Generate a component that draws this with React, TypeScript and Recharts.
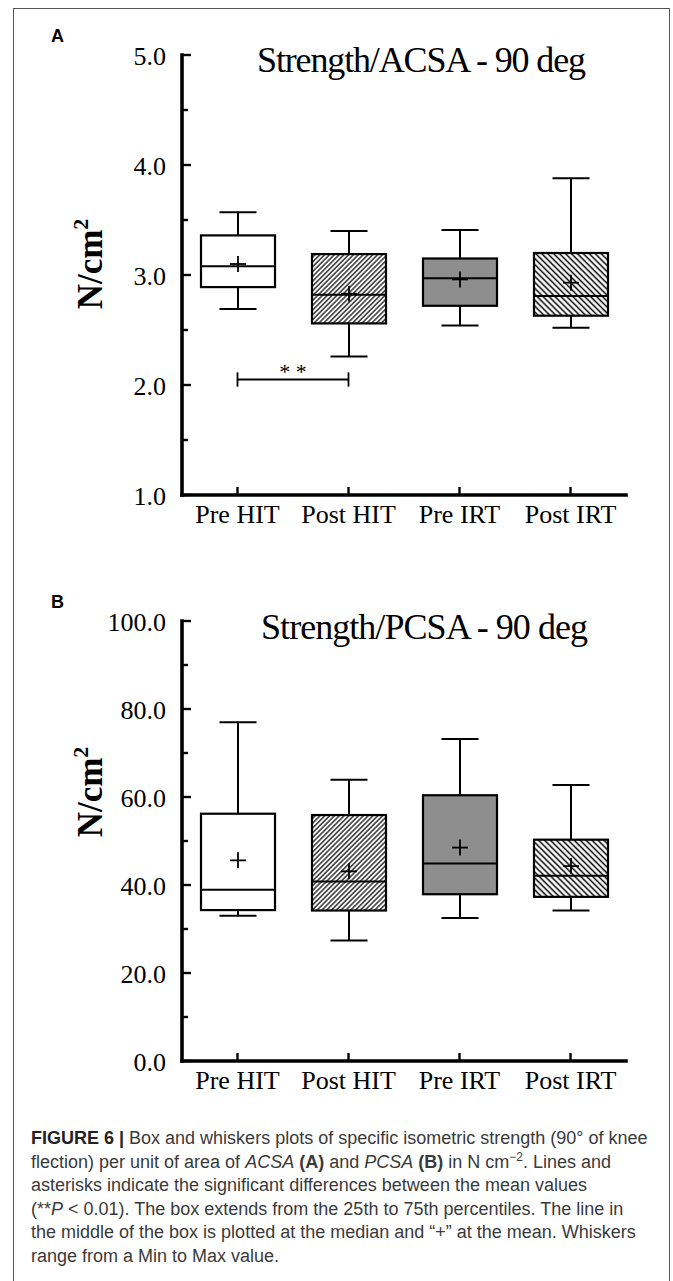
import React from 'react';
import { ComposedChart, Bar, XAxis, YAxis, ReferenceLine } from 'recharts';

const categories = ['Pre HIT', 'Post HIT', 'Pre IRT', 'Post IRT'];

// Panel A: Strength/ACSA (N/cm2)
const minA = [2.69, 2.26, 2.54, 2.52];
const q1A = [2.89, 2.56, 2.72, 2.63];
const medA = [3.08, 2.82, 2.97, 2.81];
const q3A = [3.36, 3.19, 3.15, 3.2];
const maxA = [3.57, 3.4, 3.41, 3.88];
const meanA = [3.1, 2.83, 2.96, 2.93];

// Panel B: Strength/PCSA (N/cm2)
const minB = [33.0, 27.4, 32.5, 34.2];
const q1B = [34.3, 34.2, 37.9, 37.3];
const medB = [38.9, 40.8, 44.9, 42.1];
const q3B = [56.2, 55.9, 60.4, 50.3];
const maxB = [77.0, 63.9, 73.2, 62.7];
const meanB = [45.6, 43.1, 48.5, 44.3];

const ticksA = [1.0, 1.5, 2.0, 2.5, 3.0, 3.5, 4.0, 4.5, 5.0];
const majorA = [1.0, 2.0, 3.0, 4.0, 5.0];
const ticksB = [0, 10, 20, 30, 40, 50, 60, 70, 80, 90, 100];
const majorB = [0, 20, 40, 60, 80, 100];

const fills = ['#ffffff', 'url(#hatchFwd)', '#8e8e8e', 'url(#hatchBack)'];

const SERIF = "'Liberation Serif', 'Times New Roman', serif";
const SANS = "'Liberation Sans', Arial, sans-serif";

function buildRows(mn: number[], q1: number[], md: number[], q3: number[], mx: number[], mean: number[]) {
  return categories.map((name, i) => ({
    name,
    range: [mn[i], mx[i]],
    min: mn[i],
    q1: q1[i],
    med: md[i],
    q3: q3[i],
    max: mx[i],
    mean: mean[i],
    fill: fills[i],
  }));
}

const rowsA = buildRows(minA, q1A, medA, q3A, maxA, meanA);
const rowsB = buildRows(minB, q1B, medB, q3B, maxB, meanB);

const BoxShape = (props: any) => {
  const { x, y, width, height, payload } = props;
  if (!payload) return null;
  const top = Math.min(y, y + height);
  const bot = Math.max(y, y + height);
  const span = payload.max - payload.min;
  const pix = (v: number) => bot - ((v - payload.min) / span) * (bot - top);
  const cx = x + width / 2;
  const cap = width / 4;
  const yq3 = pix(payload.q3);
  const yq1 = pix(payload.q1);
  const ym = pix(payload.med);
  const ymean = pix(payload.mean);
  return (
    <g>
      <line x1={cx} x2={cx} y1={top} y2={bot} stroke="#000" strokeWidth={2} />
      <line x1={cx - cap} x2={cx + cap} y1={top} y2={top} stroke="#000" strokeWidth={2} />
      <line x1={cx - cap} x2={cx + cap} y1={bot} y2={bot} stroke="#000" strokeWidth={2} />
      <rect x={x} y={yq3} width={width} height={yq1 - yq3} fill={payload.fill} stroke="#000" strokeWidth={2.2} />
      <line x1={x} x2={x + width} y1={ym} y2={ym} stroke="#000" strokeWidth={2} />
      <line x1={cx - 8} x2={cx + 8} y1={ymean} y2={ymean} stroke="#000" strokeWidth={1.8} />
      <line x1={cx} x2={cx} y1={ymean - 8} y2={ymean + 8} stroke="#000" strokeWidth={1.8} />
    </g>
  );
};

const makeYTick = (major: number[]) => (props: any) => {
  const { x, y, payload } = props;
  const v = payload.value as number;
  const isMajor = major.some((m) => Math.abs(m - v) < 1e-9);
  return (
    <g>
      <line x1={x} x2={x + (isMajor ? 9 : 6)} y1={y} y2={y} stroke="#000" strokeWidth={2.4} />
      {isMajor && (
        <text x={x - 16} y={y} dy={9.5} textAnchor="end" fontFamily={SERIF} fontSize={26} fill="#000">
          {v.toFixed(1)}
        </text>
      )}
    </g>
  );
};

const XTick = (props: any) => {
  const { x, y, payload } = props;
  return (
    <g>
      <line x1={x} x2={x} y1={y} y2={y - 8} stroke="#000" strokeWidth={2.4} />
      <text x={x} y={y + 28} textAnchor="middle" fontFamily={SERIF} fontSize={26} fill="#000">
        {payload.value}
      </text>
    </g>
  );
};

const axisLineStyle = { stroke: '#000', strokeWidth: 3.6, strokeLinecap: 'square' as const };

function Panel(props: { rows: any[]; domain: [number, number]; ticks: number[]; major: number[]; sig?: boolean }) {
  const { rows, domain, ticks, major, sig } = props;
  return (
    <ComposedChart
      width={673}
      height={560}
      data={rows}
      margin={{ top: 55, right: 47, bottom: 35, left: 0 }}
    >
      <XAxis
        dataKey="name"
        type="category"
        interval={0}
        height={30}
        tickSize={0}
        tickMargin={0}
        tickLine={false}
        axisLine={axisLineStyle}
        tick={<XTick />}
      />
      <YAxis
        type="number"
        domain={domain}
        ticks={ticks}
        interval={0}
        width={182}
        tickSize={0}
        tickMargin={0}
        tickLine={false}
        axisLine={axisLineStyle}
        tick={makeYTick(major)}
        allowDataOverflow
      />
      <Bar dataKey="range" barSize={74} isAnimationActive={false} shape={BoxShape} />
      {sig && (
        <ReferenceLine
          segment={[{ x: 'Pre HIT', y: 2.05 }, { x: 'Post HIT', y: 2.05 }]}
          stroke="#000"
          strokeWidth={1.8}
          label={{ value: '* *', position: 'top', offset: 1, fontSize: 22, fontFamily: SERIF, fill: '#000' }}
        />
      )}
      {sig && (
        <ReferenceLine
          segment={[{ x: 'Pre HIT', y: 1.985 }, { x: 'Pre HIT', y: 2.115 }]}
          stroke="#000"
          strokeWidth={1.8}
        />
      )}
      {sig && (
        <ReferenceLine
          segment={[{ x: 'Post HIT', y: 1.985 }, { x: 'Post HIT', y: 2.115 }]}
          stroke="#000"
          strokeWidth={1.8}
        />
      )}
    </ComposedChart>
  );
}

export default function App() {
  return (
    <div style={{ position: 'absolute', left: 0, top: 0, width: 673, height: 1281, background: '#fff', overflow: 'hidden' }}>
      <svg width={0} height={0} style={{ position: 'absolute' }}>
        <defs>
          <pattern id="hatchFwd" patternUnits="userSpaceOnUse" width={3.4} height={3.4} patternTransform="rotate(45)">
            <rect width={3.4} height={3.4} fill="#fff" />
            <line x1={1.7} y1={0} x2={1.7} y2={3.4} stroke="#000" strokeWidth={1.2} />
          </pattern>
          <pattern id="hatchBack" patternUnits="userSpaceOnUse" width={4.2} height={4.2} patternTransform="rotate(-45)">
            <rect width={4.2} height={4.2} fill="#fff" />
            <line x1={2.1} y1={0} x2={2.1} y2={4.2} stroke="#000" strokeWidth={1.5} />
          </pattern>
        </defs>
      </svg>

      <div style={{ position: 'absolute', left: 13, top: 8, width: 655, height: 1300, border: '1.5px solid #555' }} />

      <div style={{ position: 'absolute', left: 0, top: 0 }}>
        <Panel rows={rowsA} domain={[1, 5]} ticks={ticksA} major={majorA} sig />
      </div>
      <div style={{ position: 'absolute', left: 0, top: 566 }}>
        <Panel rows={rowsB} domain={[0, 100]} ticks={ticksB} major={majorB} />
      </div>

      <svg width={673} height={1281} style={{ position: 'absolute', left: 0, top: 0, pointerEvents: 'none' }}>
        <text x={51} y={42} fontFamily={SANS} fontWeight="bold" fontSize={18} fill="#000">A</text>
        <text x={51} y={608} fontFamily={SANS} fontWeight="bold" fontSize={18} fill="#000">B</text>
        <text x={257} y={72} fontFamily={SERIF} fontSize={36} fill="#000" textLength={329} lengthAdjust="spacing">
          Strength/ACSA - 90 deg
        </text>
        <text x={261} y={639} fontFamily={SERIF} fontSize={36} fill="#000" textLength={327} lengthAdjust="spacing">
          Strength/PCSA - 90 deg
        </text>
        <text
          x={102}
          y={264}
          transform="rotate(-90, 102, 264)"
          textAnchor="middle"
          fontFamily={SERIF}
          fontWeight="bold"
          fontSize={35}
          fill="#000"
        >
          N/cm<tspan fontSize={22} dy={-14}>2</tspan>
        </text>
        <text
          x={102}
          y={792}
          transform="rotate(-90, 102, 792)"
          textAnchor="middle"
          fontFamily={SERIF}
          fontWeight="bold"
          fontSize={35}
          fill="#000"
        >
          N/cm<tspan fontSize={22} dy={-14}>2</tspan>
        </text>
      </svg>

      <div
        style={{
          position: 'absolute',
          left: 31,
          top: 1127,
          fontFamily: SANS,
          fontSize: 18,
          lineHeight: '23.5px',
          color: '#3a3a3a',
          whiteSpace: 'nowrap',
        }}
      >
        <b style={{ color: '#222' }}>FIGURE 6 |</b> Box and whiskers plots of specific isometric strength (90° of knee
        <br />
        flection) per unit of area of <i>ACSA</i> <b>(A)</b> and <i>PCSA</i> <b>(B)</b> in N cm
        <sup style={{ fontSize: 12, lineHeight: 0 }}>−2</sup>. Lines and
        <br />
        asterisks indicate the significant differences between the mean values
        <br />
        (**<i>P</i> &lt; 0.01). The box extends from the 25th to 75th percentiles. The line in
        <br />
        the middle of the box is plotted at the median and “+” at the mean. Whiskers
        <br />
        range from a Min to Max value.
      </div>
    </div>
  );
}
